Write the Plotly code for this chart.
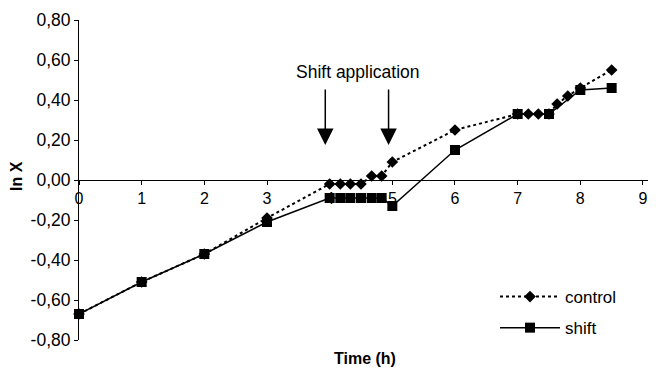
import plotly.graph_objects as go

# Data
control_time = [0, 1, 2, 3, 4, 4.17, 4.33, 4.5, 4.67, 4.83, 5, 6, 7, 7.17, 7.33, 7.5, 7.63, 7.8, 8, 8.5]
control_lnx = [-0.67, -0.51, -0.37, -0.19, -0.02, -0.02, -0.02, -0.02, 0.02, 0.02, 0.09, 0.25,
               0.33, 0.33, 0.33, 0.33, 0.38, 0.42, 0.46, 0.55]

shift_time = [0, 1, 2, 3, 4, 4.17, 4.33, 4.5, 4.67, 4.83, 5, 6, 7, 7.5, 8, 8.5]
shift_lnx = [-0.67, -0.51, -0.37, -0.21, -0.09, -0.09, -0.09, -0.09, -0.09, -0.09, -0.13, 0.15,
             0.33, 0.33, 0.45, 0.46]

y_ticks = [0.8, 0.6, 0.4, 0.2, 0.0, -0.2, -0.4, -0.6, -0.8]
y_ticklabels = ["0,80", "0,60", "0,40", "0,20", "0,00", "-0,20", "-0,40", "-0,60", "-0,80"]
x_ticks = [0, 1, 2, 3, 4, 5, 6, 7, 8, 9]
shift_application_times = [3.93, 4.94]

FONT = "Liberation Sans, Arial, sans-serif"

# the page body has an 8px margin: size the figure so the page does not overflow the window
W, H = 640, 362
L, T = 71, 12
PW = W - L          # plot width in px
PH = 320            # plot height in px

fig = go.Figure()
fig.add_trace(go.Scatter(
    x=control_time, y=control_lnx, name="control", mode="lines+markers",
    line=dict(color="black", width=2, dash="dot"),
    marker=dict(symbol="diamond", size=9, color="black"),
    cliponaxis=False, legendgroup="a",
))
fig.add_trace(go.Scatter(
    x=shift_time, y=shift_lnx, name="shift", mode="lines+markers",
    line=dict(color="black", width=1.5),
    marker=dict(symbol="square", size=10, color="black"),
    cliponaxis=False, legendgroup="b",
))

annotations = []
for t in shift_application_times:
    annotations.append(dict(
        x=t, y=0.175, xref="x", yref="y", text="", showarrow=True,
        arrowhead=2, arrowsize=2.2, arrowwidth=1.5, arrowcolor="black",
        ax=0, ay=-57,
    ))
annotations.append(dict(
    x=4.45, y=0.54, xref="x", yref="y", text="Shift application", showarrow=False,
    font=dict(size=17.5, family=FONT, color="black"),
))
annotations.append(dict(
    x=(16 - 79) / PW, y=(340 - 176) / PH, xref="paper", yref="paper",
    xanchor="center", yanchor="middle",
    text="<b>ln X</b>", textangle=-90, showarrow=False,
    font=dict(size=16, family=FONT, color="black"),
))
annotations.append(dict(
    x=(365 - 79) / PW, y=(340 - 358) / PH, xref="paper", yref="paper",
    xanchor="center", yanchor="middle",
    text="<b>Time (h)</b>", showarrow=False,
    font=dict(size=16, family=FONT, color="black"),
))

fig.update_layout(
    width=W, height=H,
    margin=dict(l=L, r=0, t=T, b=H - T - PH, autoexpand=False),
    paper_bgcolor="white", plot_bgcolor="white",
    font=dict(family=FONT, size=16, color="black"),
    showlegend=True,
    legend=dict(
        x=(495 - 79) / PW, y=(340 - 279) / PH, xanchor="left", yanchor="top",
        font=dict(size=17, family=FONT), itemwidth=60, bgcolor="rgba(0,0,0,0)",
        traceorder="grouped", tracegroupgap=6,
    ),
    annotations=annotations,
)
fig.update_xaxes(
    range=[0, 9.08], tickvals=x_ticks, showgrid=False, zeroline=False,
    showline=True, linecolor="black", linewidth=1,
    ticks="outside", ticklen=4, tickcolor="black",
    anchor="free", position=0.5, automargin=False, ticklabeloverflow="allow",
    tickfont=dict(size=16, family=FONT),
)
fig.update_yaxes(
    range=[-0.8, 0.8], tickvals=y_ticks, ticktext=y_ticklabels,
    showgrid=False, zeroline=False, automargin=False,
    showline=True, linecolor="black", linewidth=1,
    ticks="outside", ticklen=4, tickcolor="black",
    tickfont=dict(size=17.5, family=FONT),
)

fig.write_html("out.html")
